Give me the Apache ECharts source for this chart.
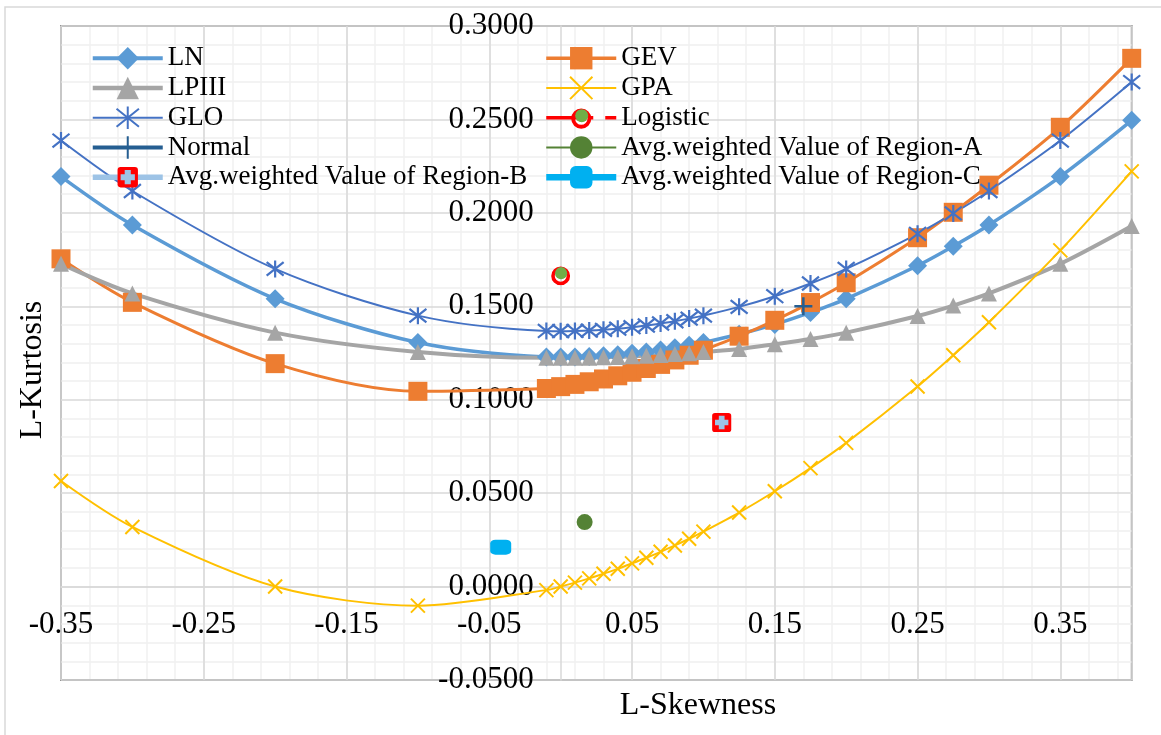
<!DOCTYPE html>
<html>
<head>
<meta charset="utf-8">
<title>L-moment ratio diagram</title>
<script src="https://cdn.jsdelivr.net/npm/echarts@6/dist/echarts.min.js"></script>
<style>
  html, body { margin: 0; padding: 0; background: #ffffff; }
  #chart { width: 1161px; height: 735px; }
</style>
</head>
<body>
<div id="chart"></div>
<script>
// L-skewness values at which the theoretical curves are sampled
const skewness = [-0.35, -0.3, -0.2, -0.1, -0.01, 0, 0.01, 0.02, 0.03, 0.04, 0.05, 0.06, 0.07,
                  0.08, 0.09, 0.1, 0.125, 0.15, 0.175, 0.2, 0.25, 0.275, 0.3, 0.35, 0.4];

// L-kurtosis of each distribution at those L-skewness values
const kurtLN    = [0.2194, 0.1935, 0.1540, 0.1306, 0.1229, 0.1228, 0.1229, 0.1231, 0.1235, 0.1241, 0.1248, 0.1256, 0.1266,
                   0.1278, 0.1291, 0.1306, 0.1350, 0.1403, 0.1467, 0.1540, 0.1717, 0.1821, 0.1935, 0.2194, 0.2495];
const kurtGEV   = [0.1754, 0.1521, 0.1193, 0.1045, 0.1060, 0.1070, 0.1082, 0.1096, 0.1111, 0.1128, 0.1147, 0.1167, 0.1189,
                   0.1213, 0.1238, 0.1265, 0.1340, 0.1425, 0.1520, 0.1626, 0.1867, 0.2003, 0.2148, 0.2458, 0.2827];
const kurtLPIII = [0.1727, 0.1569, 0.1359, 0.1255, 0.1224, 0.1224, 0.1224, 0.1225, 0.1227, 0.1229, 0.1232, 0.1235, 0.1239,
                   0.1244, 0.1249, 0.1255, 0.1271, 0.1297, 0.1325, 0.1359, 0.1448, 0.1504, 0.1569, 0.1727, 0.1929];
const kurtGPA   = [0.0565, 0.0319, 0.0000, -0.0102, -0.0019, 0.0000, 0.0021, 0.0044, 0.0069, 0.0095, 0.0124, 0.0154, 0.0186,
                   0.0220, 0.0256, 0.0294, 0.0396, 0.0510, 0.0634, 0.0769, 0.1071, 0.1238, 0.1415, 0.1799, 0.2222];
const kurtGLO   = [0.2387, 0.2117, 0.1700, 0.1450, 0.1368, 0.1367, 0.1368, 0.1370, 0.1374, 0.1380, 0.1388, 0.1397, 0.1408,
                   0.1420, 0.1434, 0.1450, 0.1497, 0.1554, 0.1622, 0.1700, 0.1888, 0.1997, 0.2117, 0.2387, 0.2700];

// Single reference points [L-skewness, L-kurtosis]
const pointLogistic = [0.0, 0.1667];
const pointNormal   = [0.17, 0.15];
const pointRegionA  = [0.0168, 0.0345];
const pointRegionB  = [0.1128, 0.0878];
const pointRegionC  = [-0.042, 0.0211];

// Axis tick labels
const xTickLabels = ['-0.35', '-0.25', '-0.15', '-0.05', '0.05', '0.15', '0.25', '0.35'];
const yTickLabels = ['-0.0500', '0.0000', '0.0500', '0.1000', '0.1500', '0.2000', '0.2500', '0.3000'];

const FONT = "'Liberation Serif', 'Times New Roman', serif";

// Plot rectangle (pixels) and axis ranges; the axes cross at (0, 0)
const PLOT = { left: 61, top: 26, width: 1070.7, height: 654 };
const X_MIN = -0.35, X_MAX = 0.4, Y_MIN = -0.05, Y_MAX = 0.3;
const yAxisShift = -(0 - X_MIN) / (X_MAX - X_MIN) * PLOT.width;   // move y axis line from left edge to x = 0
const xAxisShift = -(0 - Y_MIN) / (Y_MAX - Y_MIN) * PLOT.height;  // move x axis line from bottom edge to y = 0

function pairs(xs, ys) { return xs.map((x, i) => [x, ys[i]]); }
function pickLabel(list, v) {
  const hit = list.find(s => Math.abs(parseFloat(s) - v) < 1e-6);
  return hit === undefined ? '' : hit;
}
function svgSymbol(svg) {
  return 'image://data:image/svg+xml;charset=utf-8,' + encodeURIComponent(svg);
}

const symStar  = 'path://M1,1L9,9M9,1L1,9M5,0L5,10';
const symCross = 'path://M0,0L10,10M10,0L0,10';
const symPlus  = 'path://M5,0L5,10M0,5L10,5';
const symLogistic = svgSymbol(
  "<svg xmlns='http://www.w3.org/2000/svg' width='20' height='20' viewBox='0 0 20 20'>" +
  "<circle cx='10' cy='10.8' r='7.3' fill='none' stroke='#FF0000' stroke-width='3.4'/>" +
  "<circle cx='10.4' cy='8.2' r='5.8' fill='#70AD47'/></svg>");
const symRegionB = svgSymbol(
  "<svg xmlns='http://www.w3.org/2000/svg' width='22' height='22' viewBox='0 0 22 22'>" +
  "<rect x='1' y='1' width='20' height='20' rx='3' ry='3' fill='#FF0000'/>" +
  "<path d='M8 4h6v4h4v6h-4v4h-6v-4h-4v-6h4z' fill='#9DC3E6'/></svg>");

// Long dash / dot pattern used for the Logistic entry
const logisticDash = [32, 12, 3, 12];

// Legend entries with the line thickness shown beside each marker
const legendLeft = [
  { name: 'LN', lineStyle: { width: 4 } },
  { name: 'LPIII', lineStyle: { width: 4.5 } },
  { name: 'GLO', lineStyle: { width: 2 } },
  { name: 'Normal', lineStyle: { width: 4 } },
  { name: 'Avg.weighted Value of Region-B', lineStyle: { width: 5.5 } }
];
const legendRight = [
  { name: 'GEV', lineStyle: { width: 3.5 } },
  { name: 'GPA', lineStyle: { width: 2 } },
  { name: 'Logistic', lineStyle: { width: 3.5, type: logisticDash } },
  { name: 'Avg.weighted Value of Region-A', lineStyle: { width: 2 } },
  { name: 'Avg.weighted Value of Region-C', lineStyle: { width: 6.5 } }
];

function legendBlock(items, left) {
  return {
    data: items, left: left, top: 44.2, orient: 'vertical', padding: 0,
    itemWidth: 70, itemHeight: 28, itemGap: 1.75, selectedMode: false,
    textStyle: { fontFamily: FONT, fontSize: 27, color: '#000000', lineHeight: 28 }
  };
}

const option = {
  animation: false,
  backgroundColor: '#ffffff',
  grid: { left: PLOT.left, top: PLOT.top, width: PLOT.width, height: PLOT.height,
          containLabel: false, outerBoundsMode: 'none' },
  legend: [legendBlock(legendLeft, 90), legendBlock(legendRight, 543)],
  xAxis: [
    {
      type: 'value', min: X_MIN, max: X_MAX, interval: 0.1, z: 1,
      position: 'bottom', offset: xAxisShift,
      axisLine: { onZero: false, lineStyle: { color: '#D9D9D9', width: 1.5 } },
      axisTick: { show: false },
      axisLabel: { margin: 23, fontFamily: FONT, fontSize: 31, color: '#000000',
                   formatter: v => pickLabel(xTickLabels, v) },
      splitLine: { show: true, lineStyle: { color: '#D9D9D9', width: 1.5 } }
    },
    {
      // finer vertical gridlines every 0.02
      type: 'value', min: X_MIN, max: X_MAX, interval: 0.02, z: 0, position: 'top',
      axisLine: { show: false, onZero: false }, axisTick: { show: false }, axisLabel: { show: false },
      splitLine: { show: true, lineStyle: { color: '#F0F0F0', width: 1.5 } }
    }
  ],
  yAxis: {
    type: 'value', min: Y_MIN, max: Y_MAX, interval: 0.05, z: 1,
    position: 'left', offset: yAxisShift,
    axisLine: { onZero: false, lineStyle: { color: '#D9D9D9', width: 1.5 } },
    axisTick: { show: false },
    axisLabel: { margin: 27, fontFamily: FONT, fontSize: 31, color: '#000000',
                 formatter: v => pickLabel(yTickLabels, v) },
    splitLine: { show: true, lineStyle: { color: '#D9D9D9', width: 1.5 } },
    minorTick: { show: false, splitNumber: 5 },
    minorSplitLine: { show: true, lineStyle: { color: '#F0F0F0', width: 1.5 } }
  },
  graphic: [
    { type: 'rect', z: -10, silent: true,
      shape: { x: 5, y: 7, width: 1200, height: 800 },
      style: { fill: 'none', stroke: '#D9D9D9', lineWidth: 1.5 } },
    { type: 'rect', z: 1, silent: true,
      shape: { x: PLOT.left, y: PLOT.top, width: PLOT.width, height: PLOT.height },
      style: { fill: 'none', stroke: '#898989', lineWidth: 1.8 } },
    { type: 'text', x: 698, y: 706, silent: true,
      style: { text: 'L-Skewness', font: '32px ' + FONT, fill: '#000000', align: 'center', verticalAlign: 'middle' } },
    { type: 'text', x: 33, y: 370, rotation: Math.PI / 2, silent: true,
      style: { text: 'L-Kurtosis', font: '32px ' + FONT, fill: '#000000', align: 'center', verticalAlign: 'middle' } }
  ],
  series: [
    { name: 'LN', type: 'line', smooth: 0.3, data: pairs(skewness, kurtLN),
      symbol: 'diamond', symbolSize: 19,
      lineStyle: { color: '#5B9BD5', width: 3.5 }, itemStyle: { color: '#5B9BD5', borderWidth: 0 } },
    { name: 'GEV', type: 'line', smooth: 0.3, data: pairs(skewness, kurtGEV),
      symbol: 'rect', symbolSize: 19,
      lineStyle: { color: '#ED7D31', width: 3 }, itemStyle: { color: '#ED7D31', borderWidth: 0 } },
    { name: 'LPIII', type: 'line', smooth: 0.3, data: pairs(skewness, kurtLPIII),
      symbol: 'triangle', symbolSize: 16,
      lineStyle: { color: '#A5A5A5', width: 4 }, itemStyle: { color: '#A5A5A5', borderWidth: 0 } },
    { name: 'GPA', type: 'line', smooth: 0.3, data: pairs(skewness, kurtGPA),
      symbol: symCross, symbolSize: 14,
      lineStyle: { color: '#FFC000', width: 2 }, itemStyle: { color: '#FFC000', borderColor: '#FFC000', borderWidth: 2 } },
    { name: 'GLO', type: 'line', smooth: 0.3, data: pairs(skewness, kurtGLO),
      symbol: symStar, symbolSize: 17,
      lineStyle: { color: '#4472C4', width: 2 }, itemStyle: { color: '#4472C4', borderColor: '#4472C4', borderWidth: 2.2 } },
    { name: 'Logistic', type: 'line', data: [pointLogistic],
      symbol: symLogistic, symbolSize: 21,
      lineStyle: { color: '#FF0000', width: 3.5, type: logisticDash }, itemStyle: { color: '#FF0000' } },
    { name: 'Normal', type: 'line', data: [pointNormal],
      symbol: symPlus, symbolSize: 18,
      lineStyle: { color: '#255E91', width: 4 }, itemStyle: { color: '#255E91', borderColor: '#255E91', borderWidth: 2.5 } },
    { name: 'Avg.weighted Value of Region-A', type: 'line', data: [pointRegionA],
      symbol: 'circle', symbolSize: 16,
      lineStyle: { color: '#548235', width: 2 }, itemStyle: { color: '#548235', borderWidth: 0 } },
    { name: 'Avg.weighted Value of Region-B', type: 'line', data: [pointRegionB],
      symbol: symRegionB, symbolSize: 21,
      lineStyle: { color: '#9DC3E6', width: 5.5 }, itemStyle: { color: '#9DC3E6' } },
    { name: 'Avg.weighted Value of Region-C', type: 'line', data: [pointRegionC],
      symbol: 'roundRect', symbolSize: [21, 15],
      lineStyle: { color: '#00B0F0', width: 6.5 }, itemStyle: { color: '#00B0F0', borderWidth: 0 } }
  ]
};

const chart = echarts.init(document.getElementById('chart'), null, { renderer: 'canvas' });
chart.setOption(option);
</script>
</body>
</html>
